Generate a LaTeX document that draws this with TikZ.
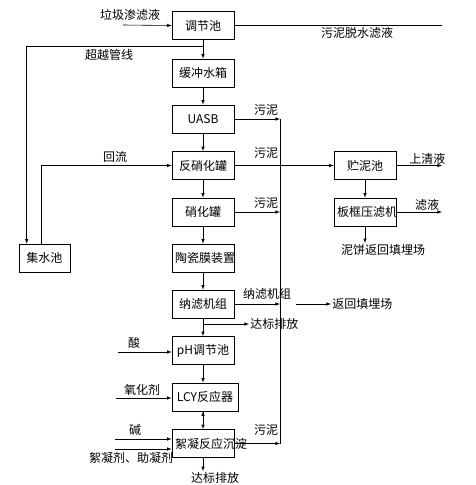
\documentclass[tikz,border=0pt]{standalone}
\usepackage{fontspec}
\setmainfont{Noto Sans CJK SC}
\usetikzlibrary{arrows,scopes}
\tikzset{
  >= latex,
  bx/.style={draw, text width=#1, align=center, minimum height=28pt, inner xsep=3pt, inner ysep=2pt},
  bx/.default=56pt,
  lb/.style={inner sep=1pt}
}
\begin{document}
\begin{tikzpicture}[x=1pt, y=-1pt, font=\fontsize{12}{14}\selectfont, line width=0.6pt]
  \useasboundingbox (0,0) rectangle (475,485);
  % main column
  \node[bx] (tjc) at (203,25.5) {调节池};
  \node[bx] (hcsx) at (203,73) {缓冲水箱};
  \node[bx] (uasb) at (203,119) {UASB};
  \node[bx] (fxh) at (203,165.5) {反硝化罐};
  \node[bx] (xh) at (203,212) {硝化罐};
  \node[bx] (tcm) at (203,258) {陶瓷膜装置};
  \node[bx] (nl) at (203,304) {纳滤机组};
  \node[bx] (ph) at (203,350.5) {pH调节池};
  \node[bx=60pt] (lcy) at (205,397) {LCY反应器};
  \node[bx] (xn) at (203,443.5) {絮凝反应沉淀};
  % side boxes
  \node[bx=45pt] (jsc) at (44.5,258) {集水池};
  \node[bx] (znc) at (365,165.5) {贮泥池};
  \node[bx] (bk) at (365,212) {板框压滤机};
  % free ends
  \coordinate (lj) at (123,25);
  \coordinate (cy) at (203,46);
  \coordinate (wn) at (280,119);
  \coordinate (re) at (442,0);
  \coordinate (fh) at (296,304);
  \coordinate (db) at (203,324);
  \coordinate (suan) at (118,352);
  \coordinate (yh) at (116,398);
  \coordinate (jian) at (115,439);
  \coordinate (ny) at (115,449);
  % labels
  \node[lb] (ljl) at (130,15) {垃圾渗滤液};
  \node[lb] (wnl) at (357,33) {污泥脱水滤液};
  \node[lb] (cyl) at (109,55) {超越管线};
  \node[lb] (hl) at (115,157) {回流};
  \node[lb] at (266,110) {污泥};
  \node[lb] at (266,153) {污泥};
  \node[lb] at (266,203) {污泥};
  \node[lb] at (266,430) {污泥};
  \node[lb] at (267,294) {纳滤机组};
  \node[lb, anchor=west] (fhtm) at (331,304) {返回填埋场};
  \node[lb, anchor=west] (dbpf) at (249,324) {达标排放};
  \node[lb] (dbpf2) at (215,478) {达标排放};
  \node[lb, anchor=south west] (sqy) at (408,166) {上清液};
  \node[lb] (lyl) at (427,205) {滤液};
  \node[lb] (nb) at (383,250) {泥饼返回填埋场};
  \node[lb] at (134,343) {酸};
  \node[lb] at (142,390) {氧化剂};
  \node[lb] at (135,430) {碱};
  \node[lb] at (131,458) {絮凝剂、助凝剂};
  {[->]
  \draw(tjc)edge(hcsx);
  \draw(hcsx)edge(uasb);
  \draw(uasb)edge(fxh);
  \draw(fxh)edge(xh);
  \draw(xh)edge(tcm);
  \draw(tcm)edge(nl);
  \draw(nl)edge(ph);
  \draw(ph)edge(lcy.north -| ph);
  \draw(lcy.south -| xn)edge(xn);
  \draw(xn)edge(xn |- dbpf2.north);
  }
  % inflow and return lines
  \draw[->] (lj) -- (tjc.west);
  \draw (tjc) -- (tjc -| re);
  \draw[->] (cy) -| ([xshift=8pt]jsc.north west);
  \draw[->] ([xshift=23pt]jsc.north west) |- (fxh.west);
  % sludge
  \begin{scope}[->]
    \draw (uasb) -- (uasb -| wn);
    \draw (fxh) -- (znc);
    \draw (xh) -- (xh -| wn);
    \draw (nl) -- (nl -| wn);
    \draw (xn) -- (xn -| wn);
  \end{scope}
  \draw (wn) -- (xn -| wn);
  \draw[->] (fh) -- (fhtm);
  \draw[->] (db) -- (dbpf);
  \draw[->] (znc) -- (bk);
  \draw[->] (znc) -- (znc -| re);
  \draw[->] (bk) -- (bk -| re);
  \draw[->] (bk) -- (bk |- nb.north);
  % dosing
  \draw[->] (suan) -- (suan -| ph.west);
  \draw[->] (yh) -- (yh -| lcy.west);
  \draw[->] (jian) -- (jian -| xn.west);
  \draw[->] (ny) -- (ny -| xn.west);
\end{tikzpicture}
\end{document}
